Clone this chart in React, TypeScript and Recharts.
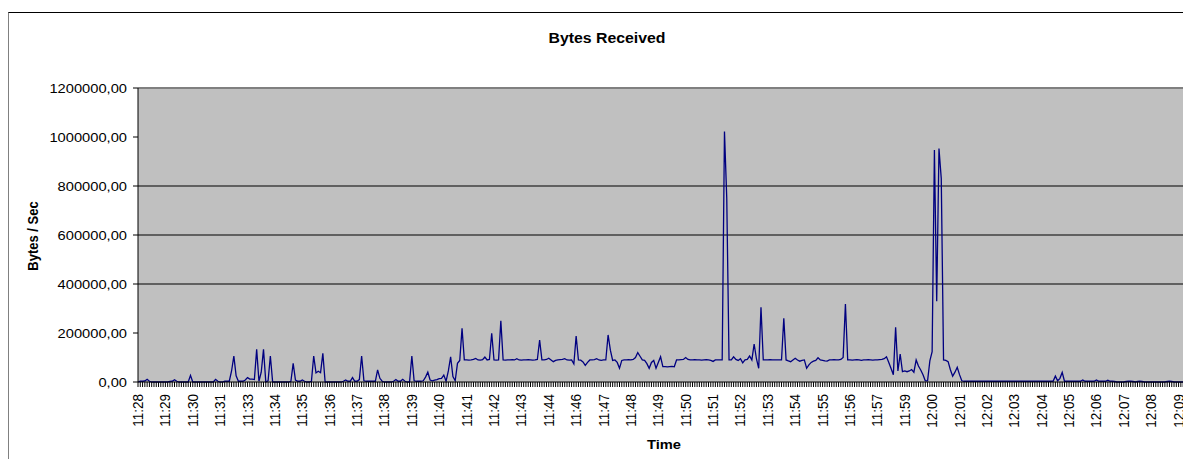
import React from "react";
import { LineChart, Line, XAxis, YAxis, CartesianGrid, ReferenceLine } from "recharts";

// Category axis labels (one label every SAMPLES_PER_LABEL samples)
const timeLabels = [
  "11:28", "11:29", "11:30", "11:31", "11:33", "11:34", "11:35", "11:36", "11:37", "11:38",
  "11:39", "11:40", "11:41", "11:42", "11:43", "11:44", "11:46", "11:47", "11:48", "11:49",
  "11:50", "11:51", "11:52", "11:53", "11:54", "11:55", "11:56", "11:57", "11:59", "12:00",
  "12:01", "12:02", "12:03", "12:04", "12:05", "12:06", "12:07", "12:08", "12:09",
];
const SAMPLES_PER_LABEL = 12;

// Bytes received per second, in thousands (one row per label interval)
const kbFrom1128 = [
  0, 3, 3, 4, 11, 3, 0, 0, 0, 0, 0, 0,
  0, 0, 2, 3, 9, 3, 0, 0, 0, 0, 0, 27,
  0, 0, 0, 0, 0, 0, 0, 0, 0, 0, 11, 3,
  0, 0, 3, 3, 3, 45, 106, 25, 3, 3, 3, 8,
  18, 12, 12, 10, 133, 3, 40, 133, 0, 5, 106, 0,
  0, 0, 0, 0, 0, 0, 0, 3, 76, 8, 3, 3,
  8, 3, 0, 0, 3, 106, 37, 44, 38, 117, 0, 0,
  0, 0, 0, 0, 0, 0, 3, 8, 3, 3, 18, 3,
  3, 10, 106, 5, 3, 3, 3, 3, 3, 49, 15, 3,
  0, 0, 0, 0, 3, 10, 3, 3, 11, 3, 0, 0,
];
const kbFrom1139 = [
  106, 5, 3, 3, 3, 5, 20, 40, 8, 5, 8, 10,
  14, 15, 28, 3, 45, 103, 22, 5, 76, 88, 219, 90,
  90, 89, 90, 92, 96, 90, 89, 91, 102, 90, 92, 199,
  90, 89, 90, 250, 90, 89, 90, 90, 91, 90, 95, 90,
  89, 90, 90, 91, 90, 89, 90, 92, 171, 90, 90, 92,
  97, 90, 83, 88, 90, 91, 92, 95, 90, 89, 90, 74,
  188, 90, 89, 82, 68, 80, 90, 90, 91, 95, 90, 88,
  90, 90, 192, 130, 88, 90, 80, 56, 88, 90, 90, 91,
  90, 92, 100, 120, 105, 90, 88, 75, 56, 80, 88, 56,
  80, 103, 63, 63, 62, 63, 64, 62, 90, 90, 91, 92,
];
const kbFrom1150 = [
  100, 92, 90, 90, 91, 90, 90, 89, 90, 91, 90, 88,
  84, 90, 90, 90, 90, 1022, 750, 90, 90, 103, 92, 88,
  95, 78, 90, 92, 106, 90, 155, 95, 56, 305, 90, 90,
  90, 91, 90, 90, 90, 90, 90, 260, 90, 86, 83, 90,
  97, 90, 85, 88, 90, 56, 70, 80, 85, 88, 99, 90,
  88, 86, 85, 90, 90, 91, 90, 90, 92, 100, 318, 90,
  90, 89, 90, 91, 90, 88, 90, 90, 91, 90, 89, 90,
  90, 91, 92, 95, 103, 80, 55, 30, 223, 45, 114, 42,
  45, 42, 45, 51, 40, 90, 65, 49, 30, 5, 5, 86,
  124, 947, 330, 953, 830, 90, 88, 83, 50, 24, 40, 60,
];
const kbFrom1201 = [
  30, 5, 3, 3, 3, 3, 3, 3, 3, 3, 3, 3,
  3, 3, 3, 3, 3, 3, 3, 3, 3, 3, 3, 3,
  3, 3, 3, 3, 3, 3, 3, 3, 3, 3, 3, 3,
  3, 3, 3, 3, 3, 3, 24, 5, 15, 39, 3, 3,
  3, 3, 3, 3, 3, 3, 8, 3, 3, 3, 3, 3,
  8, 3, 3, 3, 3, 7, 3, 3, 2, 0, 0, 0,
  0, 2, 3, 3, 2, 0, 2, 3, 2, 0, 0, 0,
  0, 0, 0, 0, 0, 0, 0, 2, 3, 2, 0, 0,
  0, 0, 0, 0, 0, 0,
];
const KB = 1000;

const yTicks = [0, 200000, 400000, 600000, 800000, 1000000, 1200000];
const gridValues = [400000, 600000, 800000];
const Y_MAX = 1200000;

const samples = [...kbFrom1128, ...kbFrom1139, ...kbFrom1150, ...kbFrom1201];
const data = samples.map((k, idx) => ({ idx, bytes: k * KB }));

const FONT = "'Liberation Sans', Arial, sans-serif";
const SX = 1.13;

const fmt = (v: number) => v.toFixed(2).replace(".", ",");

const ValueTick = (props: any) => {
  const { x, y, payload } = props;
  return (
    <text
      transform={`translate(${x},${y}) scale(${SX},1)`}
      textAnchor="end"
      dy="0.36em"
      fontSize={13}
      fontFamily={FONT}
      fill="#000"
    >
      {fmt(payload.value)}
    </text>
  );
};

const TimeTick = (props: any) => {
  const { x, y, payload } = props;
  const i = Number(payload.value);
  if (i % SAMPLES_PER_LABEL !== 0) return null;
  const label = timeLabels[i / SAMPLES_PER_LABEL];
  if (!label) return null;
  return (
    <text
      transform={`translate(${x + 5},${y + 5}) scale(${SX},1) rotate(-90)`}
      textAnchor="end"
      fontSize={13.5}
      fontFamily={FONT}
      fill="#000"
    >
      {label}
    </text>
  );
};

export default function App() {
  return (
    <div style={{ paddingTop: 4 }}>
      <div
        style={{
          position: "relative",
          width: 1182,
          height: 446,
          borderTop: "1px solid #000",
          borderLeft: "1px solid #808080",
          overflow: "hidden",
          fontFamily: FONT,
          background: "#fff",
        }}
      >
        <div
          style={{
            position: "absolute",
            left: 398,
            top: 15,
            width: 400,
            lineHeight: "20px",
            textAlign: "center",
            fontSize: 14,
            fontWeight: "bold",
            transform: `scaleX(${SX})`,
          }}
        >
          Bytes Received
        </div>
        <div
          style={{
            position: "absolute",
            left: -36,
            top: 215,
            width: 120,
            lineHeight: "16px",
            textAlign: "center",
            fontSize: 13,
            fontWeight: "bold",
            transform: `scaleX(${SX}) rotate(-90deg)`,
          }}
        >
          Bytes / Sec
        </div>
        <div
          style={{
            position: "absolute",
            left: 605,
            top: 424,
            width: 100,
            lineHeight: "16px",
            textAlign: "center",
            fontSize: 13,
            fontWeight: "bold",
            transform: `scaleX(${SX})`,
          }}
        >
          Time
        </div>
        <div style={{ position: "absolute", left: 0, top: 0 }}>
          <LineChart
            width={1181}
            height={446}
            data={data}
            margin={{ top: 75, right: 0, bottom: 17, left: 0 }}
          >
            <CartesianGrid horizontal={false} vertical={false} fill="#C0C0C0" />
            {gridValues.map((v) => (
              <ReferenceLine key={v} y={v} stroke="#000" strokeWidth={1} />
            ))}
            <ReferenceLine y={Y_MAX} stroke="#808080" strokeWidth={2} />
            <Line
              type="linear"
              dataKey="bytes"
              stroke="#000080"
              strokeWidth={1.3}
              dot={false}
              isAnimationActive={false}
            />
            <YAxis
              domain={[0, Y_MAX]}
              ticks={yTicks}
              width={129}
              axisLine={{ stroke: "#000" }}
              tickLine={{ stroke: "#000" }}
              tickSize={5}
              tickMargin={6}
              tick={<ValueTick />}
              interval={0}
            />
            <XAxis
              dataKey="idx"
              interval={0}
              height={60}
              axisLine={{ stroke: "#000" }}
              tickLine={{ stroke: "#000" }}
              tickSize={5}
              tickMargin={2}
              tick={<TimeTick />}
            />
          </LineChart>
        </div>
      </div>
    </div>
  );
}
